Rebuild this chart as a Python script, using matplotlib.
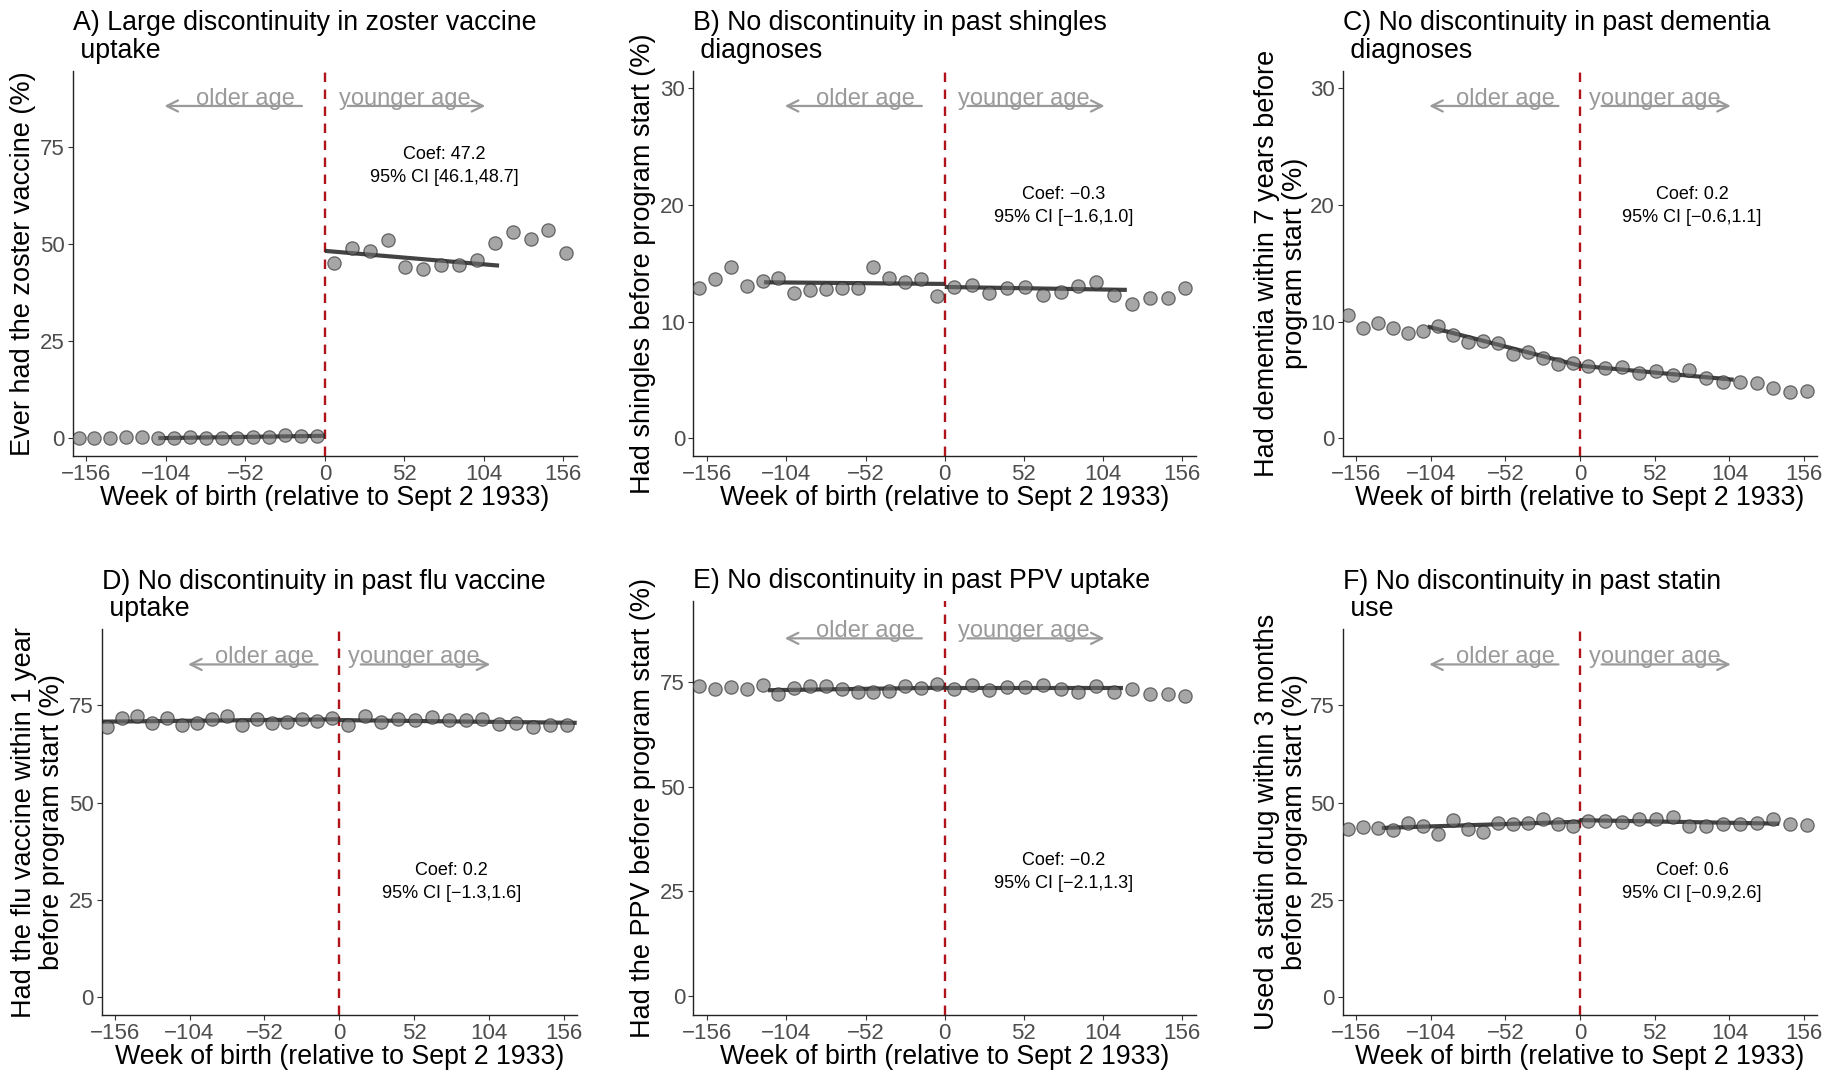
import matplotlib
matplotlib.use("Agg")
import matplotlib.pyplot as plt

plt.rcParams['font.family'] = ['Liberation Sans', 'DejaVu Sans']

W, H = 1839, 1070

# bin centres (weeks relative to Sept 2 1933)
x_left = [-161.2, -150.8, -140.4, -130.0, -119.6, -109.2, -98.8, -88.4,
          -78.0, -67.6, -57.2, -46.8, -36.4, -26.0, -15.6, -5.2]
x_right = [5.9, 17.6, 29.3, 41.0, 52.7, 64.4, 76.1, 87.8, 99.5, 111.2,
           122.9, 134.6, 146.3, 158.0]

titles = [
    "A) Large discontinuity in zoster vaccine\n uptake",
    "B) No discontinuity in past shingles\n diagnoses",
    "C) No discontinuity in past dementia\n diagnoses",
    "D) No discontinuity in past flu vaccine\n uptake",
    "E) No discontinuity in past PPV uptake",
    "F) No discontinuity in past statin\n use",
]
ylabels = [
    "Ever had the zoster vaccine (%)",
    "Had shingles before program start (%)",
    "Had dementia within 7 years before\nprogram start (%)",
    "Had the flu vaccine within 1 year\nbefore program start (%)",
    "Had the PPV before program start (%)",
    "Used a statin drug within 3 months\nbefore program start (%)",
]
coef_text = [
    "Coef: 47.2\n95% CI [46.1,48.7]",
    "Coef: \u22120.3\n95% CI [\u22121.6,1.0]",
    "Coef: 0.2\n95% CI [\u22120.6,1.1]",
    "Coef: 0.2\n95% CI [\u22121.3,1.6]",
    "Coef: \u22120.2\n95% CI [\u22122.1,1.3]",
    "Coef: 0.6\n95% CI [\u22120.9,2.6]",
]
coef_y = [70, 19.9, 19.9, 29.7, 29.7, 29.7]
y_max = [90, 30, 30, 90, 90, 90]
y_ticks = [[0, 25, 50, 75], [0, 10, 20, 30], [0, 10, 20, 30],
           [0, 25, 50, 75], [0, 25, 50, 75], [0, 25, 50, 75]]

y_left = [
    [0.1, 0.1, 0.1, 0.2, 0.2, 0.1, 0.1, 0.2, 0.0, 0.0, 0.1, 0.2, 0.4, 0.7, 0.5, 0.6],
    [12.86, 13.66, 14.66, 13.09, 13.52, 13.72, 12.46, 12.72, 12.80, 12.89, 12.86,
     14.69, 13.77, 13.37, 13.69, 12.18],
    [10.54, 9.43, 9.91, 9.49, 9.0, 9.23, 9.63, 8.83, 8.23, 8.35, 8.2, 7.24, 7.35,
     6.84, 6.32, 6.41],
    [69.4, 71.8, 72.2, 70.5, 71.8, 69.9, 70.4, 71.5, 72.3, 69.9, 71.5, 70.4, 70.7,
     71.4, 70.9, 71.7],
    [74.1, 73.5, 73.8, 73.3, 74.3, 72.2, 73.6, 74.0, 74.2, 73.5, 72.7, 72.7, 72.9,
     74.0, 73.6, 74.6],
    [43.1, 43.8, 43.4, 42.9, 44.7, 43.9, 42.0, 45.6, 43.1, 42.5, 44.8, 44.6, 44.8,
     45.9, 44.4, 43.9],
]
y_right = [
    [45.2, 48.9, 48.2, 50.9, 44.1, 43.5, 44.5, 44.6, 45.8, 50.3, 53.1, 51.3, 53.5, 47.7],
    [13.0, 13.15, 12.46, 12.89, 13.0, 12.32, 12.52, 13.09, 13.37, 12.32, 11.55,
     11.98, 11.98, 12.89],
    [6.15, 5.98, 6.07, 5.61, 5.73, 5.44, 5.81, 5.16, 4.81, 4.84, 4.73, 4.33, 3.93, 4.02],
    [69.9, 72.3, 70.7, 71.5, 71.1, 71.9, 71.2, 71.1, 71.5, 70.2, 70.4, 69.5, 69.9, 69.9],
    [73.3, 74.3, 73.2, 73.9, 73.9, 74.3, 73.4, 72.6, 74.0, 72.7, 73.5, 72.2, 72.1, 71.7],
    [45.3, 45.3, 45.0, 45.9, 45.8, 46.2, 43.9, 43.9, 44.6, 44.6, 44.7, 45.8, 44.5, 44.2],
]
# local linear fits: (x start, x end) and (y start, y end) on each side
fit_left_x = [[-109, 0], [-118.6, 0], [-106, 0], [-165, 0], [-116, 0], [-138, 0]]
fit_left_y = [[0.0, 0.6], [13.37, 13.23], [9.57, 6.21], [70.8, 71.4], [73.1, 73.7], [43.5, 45.1]]
fit_right_x = [[0, 114], [0, 119.6], [0, 107], [0, 165], [0, 117], [0, 138.7]]
fit_right_y = [[48.2, 44.4], [12.97, 12.72], [6.21, 5.01], [71.2, 70.5], [73.7, 73.7], [45.5, 44.6]]

x_ticks = [-156, -104, -52, 0, 52, 104, 156]

# axes boxes in pixels: left, right, top, bottom
boxes = [
    (72.7, 577, 71, 455.6),
    (693.4, 1196, 71, 455.6),
    (1343, 1817, 71, 455.6),
    (101.7, 576.7, 629.4, 1014.8),
    (693.4, 1196, 600.7, 1014.8),
    (1343, 1817, 629.4, 1014.8),
]
ylab_x = [23, 643, 1281, 38, 643, 1281]

fig = plt.figure(figsize=(W / 100, H / 100), dpi=100)

arrow_grey = '#9a9a9a'

for i in range(6):
    l, r, t, b = boxes[i]
    ax = fig.add_axes([l / W, 1 - b / H, (r - l) / W, (b - t) / H])
    ymax = y_max[i]
    ax.set_xlim(-165, 165)
    ax.set_ylim(-0.05 * ymax, 1.05 * ymax)

    ax.axvline(0, color='#B0131A', lw=1.7, ls=(0, (4, 3.2)), zorder=1)

    ax.plot(fit_left_x[i], fit_left_y[i], color='#2e2e2e', lw=3.0, alpha=0.9,
            solid_capstyle='butt', zorder=2)
    ax.plot(fit_right_x[i], fit_right_y[i], color='#2e2e2e', lw=3.0, alpha=0.9,
            solid_capstyle='butt', zorder=2)

    ax.scatter(x_left + x_right, y_left[i] + y_right[i], s=92, facecolor='#707070',
               edgecolor='#222222', linewidths=0.9, alpha=0.62, zorder=3)

    ya = 0.95 * ymax
    ax.annotate('', xy=(-105, ya), xytext=(-15, ya),
                arrowprops=dict(arrowstyle='->', color=arrow_grey, lw=1.6,
                                mutation_scale=20, shrinkA=0, shrinkB=0))
    ax.annotate('', xy=(105, ya), xytext=(15, ya),
                arrowprops=dict(arrowstyle='->', color=arrow_grey, lw=1.6,
                                mutation_scale=20, shrinkA=0, shrinkB=0))
    ax.text(-52, ya + 0.004 * ymax, "older age", color=arrow_grey, fontsize=17,
            ha='center', va='baseline')
    ax.text(52, ya + 0.004 * ymax, "younger age", color=arrow_grey, fontsize=17,
            ha='center', va='baseline')

    ax.text(78, coef_y[i], coef_text[i], fontsize=13, ha='center', va='center',
            linespacing=1.45, color='black')

    ax.set_xticks(x_ticks)
    ax.set_xticklabels([str(v).replace('-', '\u2212') for v in x_ticks])
    ax.set_yticks(y_ticks[i])
    ax.tick_params(labelsize=16, labelcolor='#4d4d4d', color='#333333',
                   length=3.5, width=0.8, pad=2.5)
    for s in ['top', 'right']:
        ax.spines[s].set_visible(False)
    for s in ['left', 'bottom']:
        ax.spines[s].set_color('#222222')
        ax.spines[s].set_linewidth(1.0)

    ax.set_xlabel("Week of birth (relative to Sept 2 1933)", fontsize=19.3, labelpad=0)
    ax.set_ylabel(ylabels[i], fontsize=19.5, va='center', linespacing=1.06)
    ax.yaxis.set_label_coords((ylab_x[i] - l) / (r - l), 0.5)

    ax.annotate(titles[i], xy=(0, 1), xycoords='axes fraction', xytext=(0, 5),
                textcoords='offset points', ha='left', va='bottom', fontsize=19.3,
                linespacing=1.08)

fig.savefig("out.png", dpi=100, facecolor='white')
